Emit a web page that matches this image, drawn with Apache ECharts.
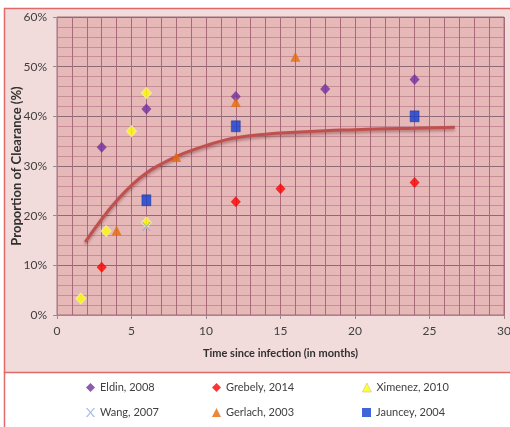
<!DOCTYPE html>
<html><head><meta charset="utf-8">
<script src="https://cdn.jsdelivr.net/npm/echarts@6/dist/echarts.min.js"></script>
<style>html,body{margin:0;padding:0;background:#fff;}#c{width:510px;height:427px;}</style>
</head><body><div id="c"></div>
<script>
// Data (x = months since infection, y = % clearance)
const eldin    = [[3,33.8],[6,41.5],[12,44.0],[18,45.5],[24,47.4]];
const grebely  = [[3,9.6],[12,22.8],[15,25.4],[24,26.7]];
const ximenez  = [[1.6,3.3],[3.3,16.9],[5,37.0],[6,44.7],[6,18.6]];
const wang     = [[6,17.8]];
const gerlach  = [[4,17.0],[8,31.8],[12,42.9],[16,52.0]];
const jauncey  = [[6,23.1],[12,38.0],[24,40.0]];
const trend    = [[1.9,14.7],[3,19.3],[4,23.0],[5,26.1],[6,28.6],[7,30.4],[8,31.9],[9,33.1],[10,34.1],[11,35.0],[12,35.7],[14,36.4],[16,36.8],[18,37.1],[20,37.3],[22,37.5],[24,37.6],[26.7,37.8]];
const names = ['Eldin, 2008','Grebely, 2014','Ximenez, 2010','Wang, 2007','Gerlach, 2003','Jauncey, 2004'];
const xTicks = [0,5,10,15,20,25,30];
const yTicks = [0,10,20,30,40,50,60];

const FONT = 'Lato';
const xSym = 'path://M0,0 L1.6,0 L5,4.3 L8.4,0 L10,0 L5.8,5 L10,10 L8.4,10 L5,5.7 L1.6,10 L0,10 L4.2,5 Z';
const chart = echarts.init(document.getElementById('c'), null, {renderer:'canvas'});
const legPos = [[81,377],[207,377],[357,377],[81,402],[207,402],[357,402]];
const legIcons = ['diamond','diamond','triangle',xSym,'triangle','rect'];
const legStyles = [
  {color:'#7030a0', borderWidth:0},
  {color:'#ff0000', borderWidth:0},
  {color:'#ffff00', borderColor:'#c8c890', borderWidth:0.8},
  {color:'#8ea9db', borderWidth:0},
  {color:'#e46c0a', borderWidth:0},
  {color:'#0f3fd0', borderWidth:0}
];
const legend = names.map((n,i)=>({
  data:[{name:n, icon:legIcons[i], itemStyle:legStyles[i]}], left:legPos[i][0], top:legPos[i][1],
  itemWidth: 9, itemHeight: 9,
  textStyle:{fontFamily:FONT, fontSize:11, color:'#404040'}
}));
const gridColor = '#a86a7a';
const minorColor = '#c88e98';
chart.setOption({
  animation:false,
  graphic:[
    {type:'rect', shape:{x:4.5,y:8.5,width:520,height:364}, style:{fill:'#f2dcdb', stroke:'#e06a6a', lineWidth:1.5}, z:-10},
    {type:'line', shape:{x1:4.5,y1:372,x2:4.5,y2:430}, style:{stroke:'#e06a6a', lineWidth:1.5}, z:-10}
  ],
  legend: legend,
  grid:{left:57, right:6, top:17, bottom:112, containLabel:false, outerBoundsMode:'none', show:true, backgroundColor:'#e7b8b8', borderColor:'#a0707a', borderWidth:1},
  xAxis:{
    type:'value', min:xTicks[0], max:xTicks[xTicks.length-1], interval:5,
    name:'Time since infection (in months)', nameLocation:'middle', nameGap:33, nameMoveOverlap:false,
    nameTextStyle:{fontFamily:FONT, fontWeight:'bold', fontSize:11, color:'#303030'},
    axisLine:{show:true, lineStyle:{color:'#9a8a8a'}},
    axisTick:{show:true, length:4, lineStyle:{color:'#9a8a8a'}},
    axisLabel:{fontFamily:FONT, fontSize:12, color:'#404040', margin:10},
    splitLine:{show:true, lineStyle:{color:gridColor, width:1}},
    minorTick:{show:false, splitNumber:5},
    minorSplitLine:{show:true, lineStyle:{color:gridColor, width:1}}
  },
  yAxis:{
    type:'value', min:yTicks[0], max:yTicks[yTicks.length-1], interval:10,
    name:'Proportion of Clearance (%)', nameLocation:'middle', nameGap:34, nameMoveOverlap:false,
    nameTextStyle:{fontFamily:FONT, fontWeight:'bold', fontSize:13, color:'#303030'},
    axisLine:{show:true, lineStyle:{color:'#9a8a8a'}},
    axisTick:{show:true, length:4, lineStyle:{color:'#9a8a8a'}},
    axisLabel:{fontFamily:FONT, fontSize:12, color:'#404040', formatter:'{value}%', margin:10},
    splitLine:{show:true, lineStyle:{color:'#8e6a78', width:1.2}},
    minorTick:{show:false, splitNumber:5},
    minorSplitLine:{show:true, lineStyle:{color:minorColor, width:1}}
  },
  series:[
    {name:'trend', type:'line', data:trend, smooth:true, showSymbol:false, symbol:'none', silent:true,
     lineStyle:{color:'#c0504d', width:3, shadowColor:'rgba(60,0,0,0.35)', shadowBlur:3, shadowOffsetY:2}, z:2},
    {name:names[0], type:'scatter', data:eldin, symbol:'diamond', symbolSize:[10,11], itemStyle:{color:'#7030a0'}, z:3},
    {name:names[1], type:'scatter', data:grebely, symbol:'diamond', symbolSize:[10,11], itemStyle:{color:'#ff0000'}, z:3},
    {name:names[2], type:'scatter', data:ximenez, symbol:'diamond', symbolSize:[10,11], itemStyle:{color:'#ffff00', borderColor:'#f0f0b0', borderWidth:1}, z:3},
    {name:names[3], type:'scatter', data:wang, symbol:xSym, symbolSize:9, itemStyle:{color:'#8ea9db', opacity:0.85}, z:4},
    {name:names[4], type:'scatter', data:gerlach, symbol:'triangle', symbolSize:[10,10], itemStyle:{color:'#e46c0a'}, z:3},
    {name:names[5], type:'scatter', data:jauncey, symbol:'rect', symbolSize:[9,11], itemStyle:{color:'#0f3fd0', borderColor:'#0a2a90', borderWidth:0.5}, z:3}
  ]
});
</script></body></html>
